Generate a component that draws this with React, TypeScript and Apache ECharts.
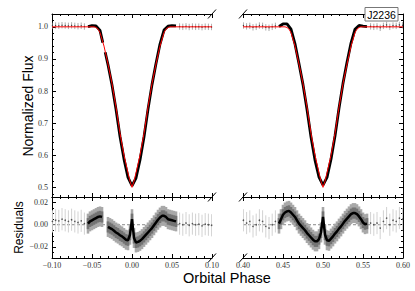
import React, { useEffect, useRef } from "react";
import * as echarts from "echarts";

// ---------- data ----------
const modelPhaseL = [-0.1, -0.0475, -0.045, -0.0425, -0.04, -0.035, -0.03, -0.025, -0.02, -0.015, -0.01, -0.005, -0.0025, 0, 0.0025, 0.005, 0.01, 0.015, 0.02, 0.025, 0.03, 0.035, 0.04, 0.0425, 0.045, 0.0475, 0.1];
const modelPhaseR = [0.4, 0.4525, 0.455, 0.4575, 0.46, 0.465, 0.47, 0.475, 0.48, 0.485, 0.49, 0.495, 0.4975, 0.5, 0.5025, 0.505, 0.51, 0.515, 0.52, 0.525, 0.53, 0.535, 0.54, 0.5425, 0.545, 0.5475, 0.6];
const modelFlux = [1.0, 1.0, 0.998, 0.993, 0.982, 0.94, 0.884, 0.823, 0.75, 0.668, 0.6, 0.545, 0.519, 0.5, 0.519, 0.545, 0.6, 0.668, 0.75, 0.823, 0.884, 0.94, 0.982, 0.993, 0.998, 1.0, 1.0];

const obsPhaseL = [-0.055, -0.05, -0.045, -0.04, -0.0365, -0.035, -0.0335, -0.03, -0.025, -0.02, -0.015, -0.01, -0.005, 0, 0.005, 0.01, 0.015, 0.02, 0.025, 0.03, 0.035, 0.04, 0.045, 0.05, 0.055];
const obsFluxL = [1.001, 1.004, 1.003, 0.989, 0.951, null, 0.921, 0.882, 0.819, 0.743, 0.6585, 0.588, 0.531, 0.505, 0.529, 0.5855, 0.657, 0.743, 0.82, 0.886, 0.9465, 0.99, 1.002, 1.004, 1.003];
const obsPhaseR = [0.445, 0.45, 0.455, 0.46, 0.465, 0.47, 0.475, 0.48, 0.485, 0.49, 0.495, 0.5, 0.505, 0.51, 0.515, 0.52, 0.525, 0.53, 0.535, 0.54, 0.545, 0.55, 0.555];
const obsFluxR = [1.001, 1.009, 1.009, 0.993, 0.947, 0.885, 0.82, 0.7425, 0.6565, 0.585, 0.532, 0.507, 0.531, 0.5875, 0.66, 0.7465, 0.824, 0.8895, 0.9495, 0.9925, 1.0045, 1.002, 1.001];

const resPhaseL = [-0.055, -0.0525, -0.05, -0.0475, -0.045, -0.0425, -0.04, -0.0375, -0.03, -0.0275, -0.025, -0.0225, -0.02, -0.0175, -0.015, -0.0125, -0.01, -0.0075, -0.005, -0.0025, 0, 0.0025, 0.005, 0.0075, 0.01, 0.0125, 0.015, 0.0175, 0.02, 0.0225, 0.025, 0.0275, 0.03, 0.0325, 0.035, 0.0375, 0.04, 0.0425, 0.045, 0.0475, 0.05, 0.0525, 0.055];
const resValL = [0.001, 0.003, 0.004, 0.005, 0.006, 0.007, 0.0075, 0.007, -0.002, -0.003, -0.004, -0.0055, -0.007, -0.008, -0.0095, -0.0105, -0.012, -0.0135, -0.014, -0.009, 0.005, -0.012, -0.016, -0.0155, -0.0145, -0.013, -0.011, -0.009, -0.007, -0.005, -0.003, -0.0005, 0.002, 0.0045, 0.0065, 0.008, 0.008, 0.007, 0.005, 0.0045, 0.004, 0.0035, 0.003];
const resPhaseR = [0.445, 0.4475, 0.45, 0.4525, 0.455, 0.4575, 0.46, 0.4625, 0.465, 0.4675, 0.47, 0.4725, 0.475, 0.4775, 0.48, 0.4825, 0.485, 0.4875, 0.49, 0.4925, 0.495, 0.4975, 0.5, 0.5025, 0.505, 0.5075, 0.51, 0.5125, 0.515, 0.5175, 0.52, 0.5225, 0.525, 0.5275, 0.53, 0.5325, 0.535, 0.5375, 0.54, 0.5425, 0.545, 0.5475, 0.55, 0.5525, 0.555];
const resValR = [0.001, 0.005, 0.009, 0.011, 0.012, 0.0125, 0.011, 0.009, 0.007, 0.004, 0.001, -0.001, -0.003, -0.005, -0.0075, -0.0095, -0.0115, -0.0135, -0.015, -0.015, -0.013, -0.007, 0.007, -0.009, -0.014, -0.0145, -0.0125, -0.0105, -0.008, -0.006, -0.0035, -0.0015, 0.001, 0.0035, 0.0055, 0.0075, 0.0095, 0.0105, 0.0105, 0.0095, 0.0075, 0.005, 0.002, 0.0005, 0.001];

const outPhaseLL = [-0.0995, -0.0955, -0.0915, -0.0875, -0.0835, -0.0795, -0.0755, -0.0715, -0.0675, -0.0635, -0.0595];
const outResLL = [0.003, 0.004, 0.0035, 0.005, 0.004, 0.003, 0.0045, 0.003, 0.002, 0.0035, 0.001];
const outFluxLL = [1.003, 1.004, 1.0035, 1.005, 1.004, 1.003, 1.0045, 1.003, 1.002, 1.0035, 1.001];
const outPhaseLR = [0.0595, 0.0635, 0.0675, 0.0715, 0.0755, 0.0795, 0.0835, 0.0875, 0.0915, 0.0955, 0.0995];
const outResLR = [0.001, 0.0, 0.0015, -0.0005, 0.001, 0.0, 0.0005, -0.001, 0.0005, 0.0, -0.0005];
const outFluxLR = [1.001, 1.0, 1.0015, 0.9995, 1.001, 1.0, 1.0005, 0.999, 1.0005, 1.0, 0.9995];
const outPhaseRL = [0.4005, 0.4045, 0.4085, 0.4125, 0.4165, 0.4205, 0.4245, 0.4285, 0.4325, 0.4365, 0.4405];
const outResRL = [0.004, 0.0015, 0.003, -0.0015, 0.0, 0.004, 0.003, -0.0015, -0.003, 0.0, 0.003];
const outFluxRL = [1.004, 1.0015, 1.003, 0.9985, 1.0, 1.004, 1.003, 0.9985, 0.997, 1.0, 1.003];
const outPhaseRR = [0.5595, 0.5635, 0.5675, 0.5715, 0.5755, 0.5795, 0.5835, 0.5875, 0.5915, 0.5955, 0.5995];
const outResRR = [0.0015, 0.0, 0.0015, -0.003, 0.003, 0.006, 0.0, 0.004, 0.003, 0.006, 0.005];
const outFluxRR = [1.0015, 1.0, 1.0015, 0.997, 1.003, 1.006, 1.0, 1.004, 1.003, 1.006, 1.005];

const outErr = 0.01;
const bandOuter = 0.009;
const bandInner = 0.005;

const fluxTicks = [0.5, 0.6, 0.7, 0.8, 0.9, 1.0];
const fluxMinorTicks = [0.48, 0.52, 0.54, 0.56, 0.58, 0.62, 0.64, 0.66, 0.68, 0.72, 0.74, 0.76, 0.78, 0.82, 0.84, 0.86, 0.88, 0.92, 0.94, 0.96, 0.98, 1.02];
const resTicks = [-0.02, 0.0, 0.02];
const resMinorTicks = [-0.025, -0.015, -0.01, -0.005, 0.005, 0.01, 0.015];

const xRangeL = [-0.1, 0.1];
const xRangeR = [0.4, 0.6];
const fluxRange = [0.47, 1.04];
const resRange = [-0.03, 0.025];

// ---------- layout ----------
const LX = 52, RX = 243, PW = 160;
const TY = 14, TH = 183, BY = 197, BH = 61;

const fmt = (v: number, d: number) => {
  if (Math.abs(v) < 1e-9) v = 0;
  return (v < 0 ? "\u2212" : "") + Math.abs(v).toFixed(d);
};

const labelStyle = { fontFamily: "Liberation Serif", fontSize: 8, color: "#333" };

function xAx(grid: number, range: number[], pos: string, labels: boolean) {
  return {
    type: "value", gridIndex: grid, min: range[0], max: range[1], interval: 0.05, position: pos,
    axisLine: { show: true, onZero: false, lineStyle: { color: "#000", width: 1 } },
    axisTick: { show: true, inside: true, length: 4, lineStyle: { color: "#000", width: 1 } },
    minorTick: { show: true, splitNumber: 5, length: 2, lineStyle: { color: "#000", width: 1 } },
    splitLine: { show: false }, minorSplitLine: { show: false },
    axisLabel: { show: labels, margin: 3, ...labelStyle, formatter: (v: number) => fmt(v, 2) },
  };
}
function yMain(grid: number, range: number[], pos: string, ticks: number[], labels: boolean, dec: number) {
  return {
    type: "value", gridIndex: grid, min: range[0], max: range[1], position: pos,
    axisLine: { show: true, onZero: false, lineStyle: { color: "#000", width: 1 } },
    axisTick: { show: true, inside: true, length: 4, customValues: ticks, lineStyle: { color: "#000", width: 1 } },
    splitLine: { show: false },
    axisLabel: { show: labels, customValues: ticks, margin: 4, ...labelStyle, formatter: (v: number) => fmt(v, dec) },
  };
}
function yMinor(grid: number, range: number[], pos: string, ticks: number[]) {
  return {
    type: "value", gridIndex: grid, min: range[0], max: range[1], position: pos,
    axisLine: { show: false, onZero: false },
    axisTick: { show: true, inside: true, length: 2, customValues: ticks, lineStyle: { color: "#000", width: 1 } },
    splitLine: { show: false },
    axisLabel: { show: false },
  };
}

function errSeries(p: number, xs: number[], ys: number[], err: number, color: string, width: number, z: number) {
  return {
    type: "custom", xAxisIndex: 2 * p, yAxisIndex: 2 * p, clip: true, silent: true, z,
    data: xs.map((x, i) => [x, ys[i], err]),
    renderItem: (params: any, api: any) => {
      const x = api.value(0), y = api.value(1), e = api.value(2);
      const a = api.coord([x, y - e]);
      const b = api.coord([x, y + e]);
      return { type: "line", shape: { x1: a[0], y1: a[1], x2: b[0], y2: b[1] }, style: { stroke: color, lineWidth: width } };
    },
  };
}
function dots(p: number, xs: number[], ys: number[], size: number, color: string, z: number) {
  return {
    type: "scatter", xAxisIndex: 2 * p, yAxisIndex: 2 * p, symbol: "circle", symbolSize: size, silent: true, z,
    itemStyle: { color }, data: xs.map((x, i) => [x, ys[i]]),
  };
}
function line(p: number, xs: number[], ys: (number | null)[], color: string, width: number, z: number, dash?: any) {
  return {
    type: "line", xAxisIndex: 2 * p, yAxisIndex: 2 * p, showSymbol: false, silent: true, z, connectNulls: false,
    lineStyle: { color, width, type: dash || "solid" },
    data: xs.map((x, i) => [x, ys[i] == null ? "-" : ys[i]]),
  };
}

function breakMark(x: number, y: number) {
  return { type: "line", shape: { x1: x - 4, y1: y + 4.5, x2: x + 4, y2: y - 4.5 }, style: { stroke: "#000", lineWidth: 1 }, z: 100 };
}

const zeroX = [-0.1, 0.1];
const zeroXR = [0.4, 0.6];
const zeroY = [0, 0];

const topErrColor = "#888";

const option: any = {
  animation: false,
  grid: [
    { left: LX, top: TY, width: PW, height: TH },
    { left: RX, top: TY, width: PW, height: TH },
    { left: LX, top: BY, width: PW, height: BH },
    { left: RX, top: BY, width: PW, height: BH },
  ],
  xAxis: [
    xAx(0, xRangeL, "bottom", false), xAx(0, xRangeL, "top", false),
    xAx(1, xRangeR, "bottom", false), xAx(1, xRangeR, "top", false),
    xAx(2, xRangeL, "bottom", true), xAx(2, xRangeL, "top", false),
    xAx(3, xRangeR, "bottom", true), xAx(3, xRangeR, "top", false),
  ],
  yAxis: [
    yMain(0, fluxRange, "left", fluxTicks, true, 1), yMinor(0, fluxRange, "left", fluxMinorTicks),
    yMain(1, fluxRange, "right", fluxTicks, false, 1), yMinor(1, fluxRange, "right", fluxMinorTicks),
    yMain(2, resRange, "left", resTicks, true, 2), yMinor(2, resRange, "left", resMinorTicks),
    yMain(3, resRange, "right", resTicks, false, 2), yMinor(3, resRange, "right", resMinorTicks),
  ],
  series: [
    // top-left
    errSeries(0, outPhaseLL, outFluxLL, outErr, topErrColor, 0.7, 2),
    errSeries(0, outPhaseLR, outFluxLR, outErr, topErrColor, 0.7, 2),
    dots(0, outPhaseLL, outFluxLL, 1.3, "#222", 3),
    dots(0, outPhaseLR, outFluxLR, 1.3, "#222", 3),
    line(0, obsPhaseL, obsFluxL, "#000", 2.8, 4),
    line(0, modelPhaseL, modelFlux, "#ff0000", 1, 5),
    // top-right
    errSeries(1, outPhaseRL, outFluxRL, outErr, topErrColor, 0.7, 2),
    errSeries(1, outPhaseRR, outFluxRR, outErr, topErrColor, 0.7, 2),
    dots(1, outPhaseRL, outFluxRL, 1.3, "#222", 3),
    dots(1, outPhaseRR, outFluxRR, 1.3, "#222", 3),
    line(1, obsPhaseR, obsFluxR, "#000", 2.8, 4),
    line(1, modelPhaseR, modelFlux, "#ff0000", 1, 5),
    // bottom-left
    line(2, zeroX, zeroY, "#888", 1, 1, [3, 2]),
    errSeries(2, outPhaseLL, outResLL, outErr, "#d2d2d2", 1, 2),
    errSeries(2, outPhaseLR, outResLR, outErr, "#d2d2d2", 1, 2),
    dots(2, outPhaseLL, outResLL, 1.6, "#333", 3),
    dots(2, outPhaseLR, outResLR, 1.6, "#333", 3),
    errSeries(2, resPhaseL, resValL, bandOuter, "#a8a8a8", 2.6, 3),
    errSeries(2, resPhaseL, resValL, bandInner, "#747474", 2.6, 4),
    line(2, resPhaseL.slice(0, 8), resValL.slice(0, 8), "#000", 2.5, 5),
    line(2, resPhaseL.slice(8), resValL.slice(8), "#000", 2.5, 5),
    // bottom-right
    line(3, zeroXR, zeroY, "#888", 1, 1, [3, 2]),
    errSeries(3, outPhaseRL, outResRL, outErr, "#d2d2d2", 1, 2),
    errSeries(3, outPhaseRR, outResRR, outErr, "#d2d2d2", 1, 2),
    dots(3, outPhaseRL, outResRL, 1.6, "#333", 3),
    dots(3, outPhaseRR, outResRR, 1.6, "#333", 3),
    errSeries(3, resPhaseR, resValR, bandOuter, "#a8a8a8", 2.6, 3),
    errSeries(3, resPhaseR, resValR, bandInner, "#747474", 2.6, 4),
    line(3, resPhaseR, resValR, "#000", 2.5, 5),
  ],
  graphic: [
    breakMark(LX + PW, TY), breakMark(LX + PW, BY), breakMark(LX + PW, BY + BH),
    breakMark(RX, TY), breakMark(RX, BY), breakMark(RX, BY + BH),
    {
      type: "text", x: 27.5, y: 106, rotation: Math.PI / 2, z: 100,
      style: { text: "Normalized Flux", fontFamily: "Liberation Sans", fontSize: 14, fill: "#000", textAlign: "center", textVerticalAlign: "middle", align: "center", verticalAlign: "middle" },
    },
    {
      type: "text", x: 18.5, y: 227.5, rotation: Math.PI / 2, z: 100,
      style: { text: "Residuals", fontFamily: "Liberation Sans", fontSize: 12, fill: "#000", textAlign: "center", textVerticalAlign: "middle", align: "center", verticalAlign: "middle" },
    },
    {
      type: "text", x: 227, y: 277.5, z: 100,
      style: { text: "Orbital Phase", fontFamily: "Liberation Sans", fontSize: 14.5, fill: "#000", textAlign: "center", textVerticalAlign: "middle", align: "center", verticalAlign: "middle" },
    },
    {
      type: "rect", z: 100, shape: { x: 365, y: 7.5, width: 33, height: 13.5 },
      style: { fill: "#fff", stroke: "#777", lineWidth: 1 },
    },
    {
      type: "text", x: 381.5, y: 14.5, z: 101,
      style: { text: "J2236", fontFamily: "Liberation Sans", fontSize: 10.5, fill: "#000", textAlign: "center", textVerticalAlign: "middle", align: "center", verticalAlign: "middle" },
    },
  ],
};

export default function App() {
  const ref = useRef<HTMLDivElement>(null);
  useEffect(() => {
    const chart = echarts.init(ref.current as HTMLDivElement, null, { renderer: "svg" });
    chart.setOption(option);
    return () => chart.dispose();
  }, []);
  return <div ref={ref} style={{ position: "absolute", left: 0, top: 0, width: 415, height: 291, background: "#fff" }} />;
}
